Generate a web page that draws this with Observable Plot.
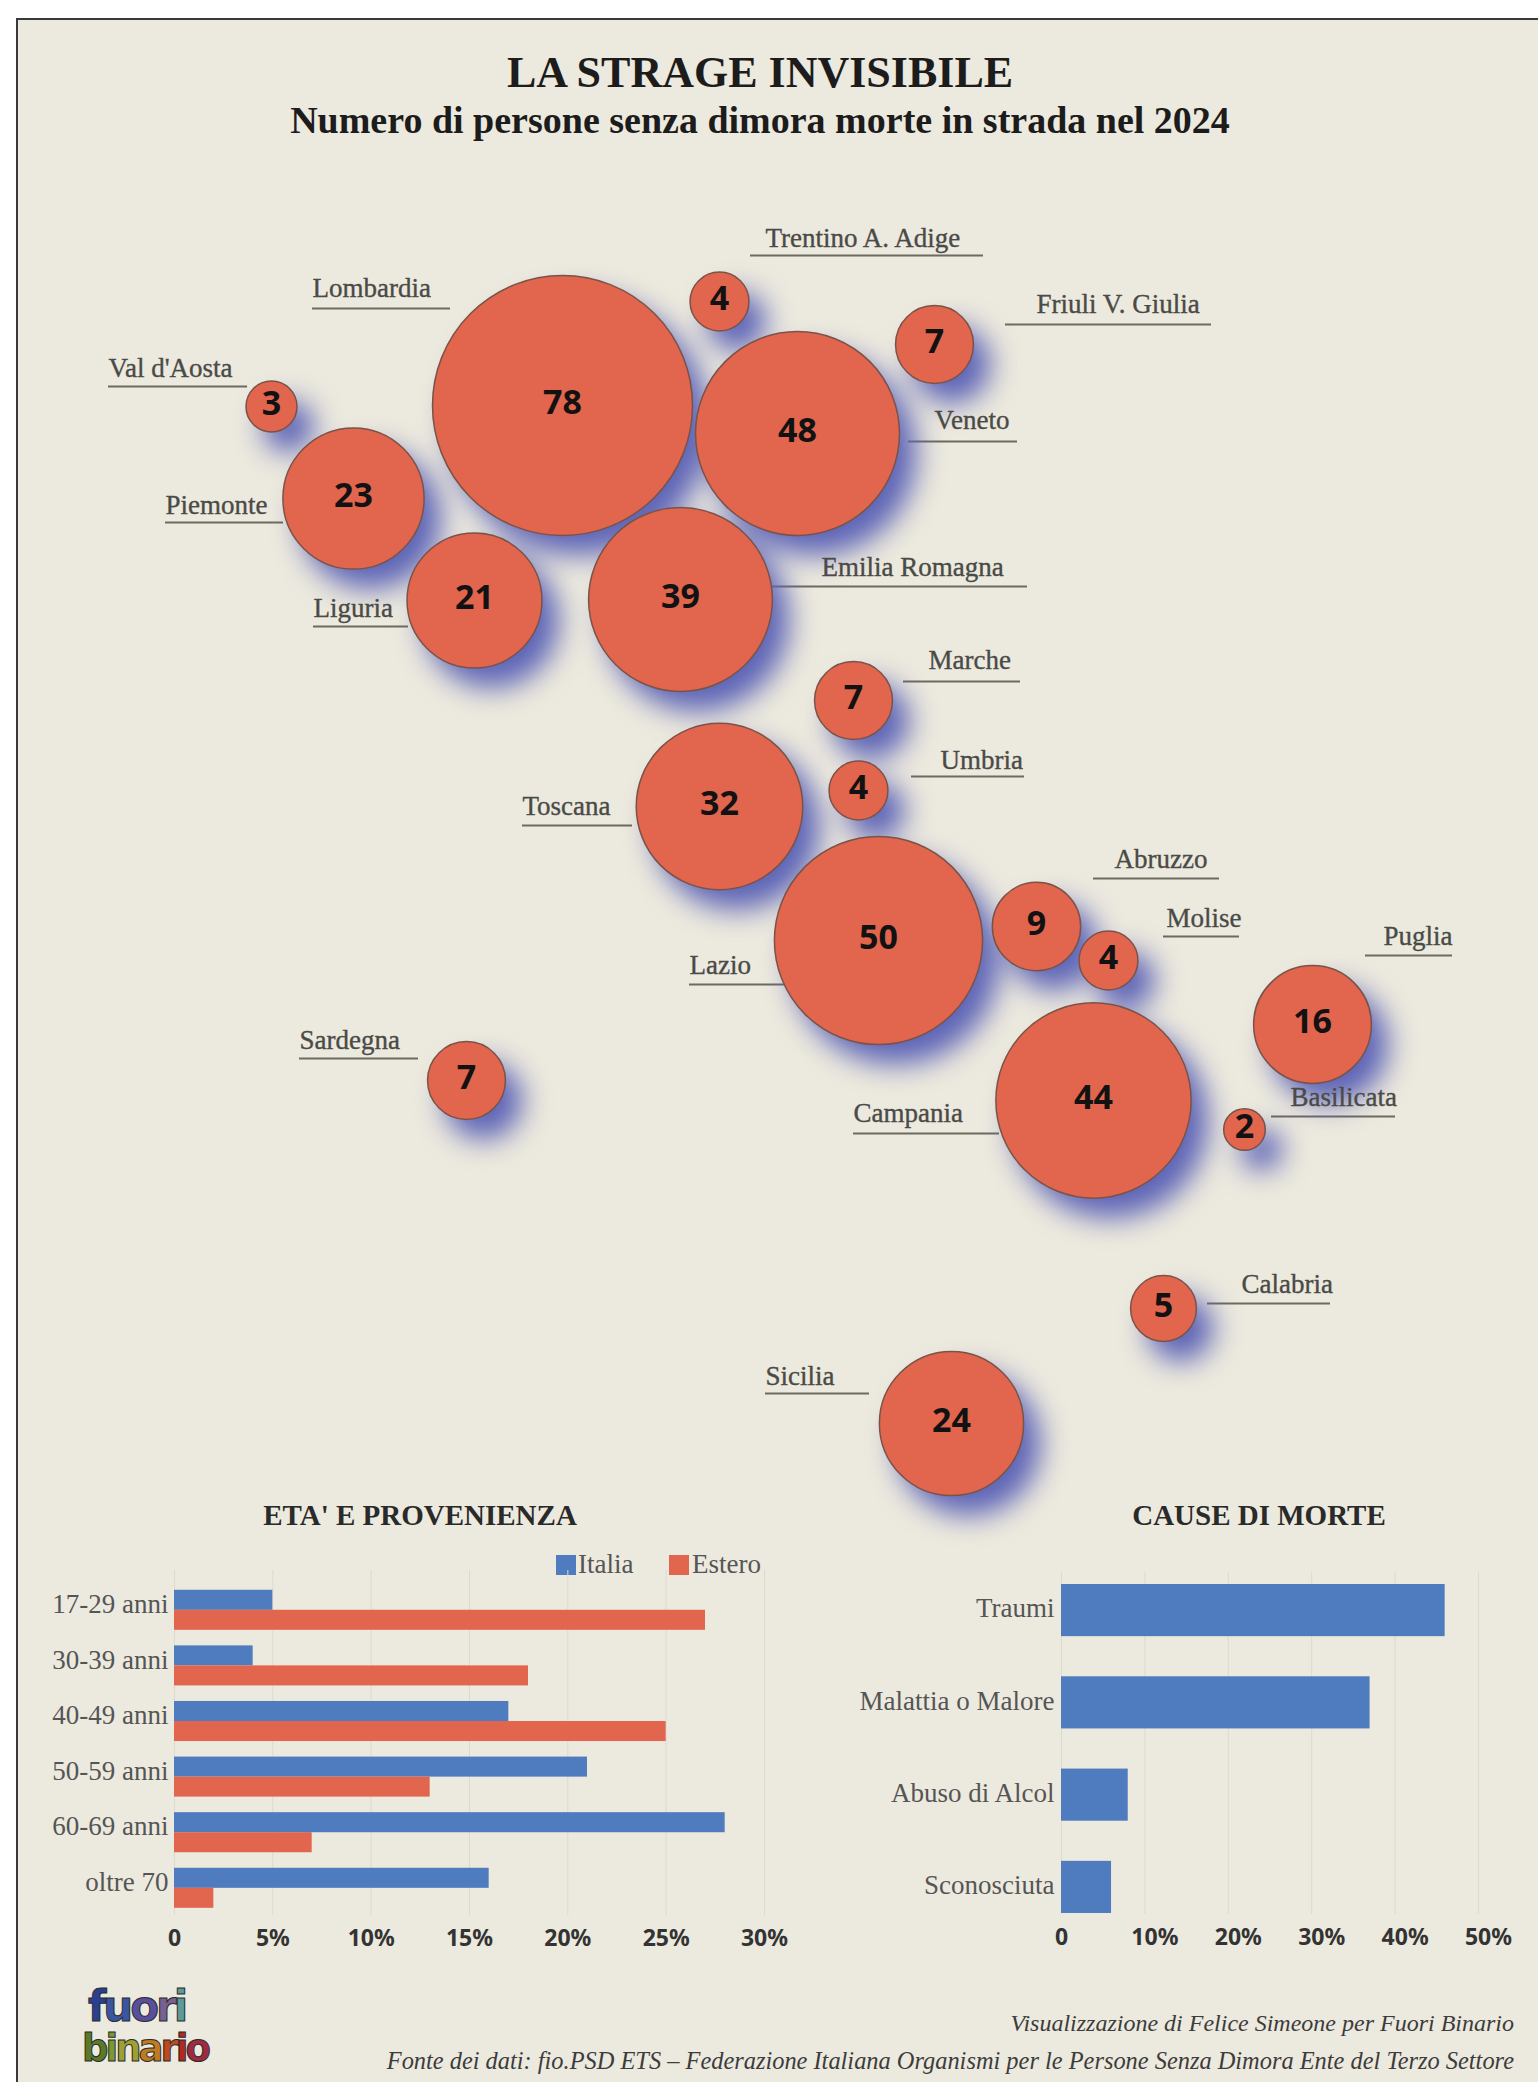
<!DOCTYPE html>
<html lang="it">
<head>
<meta charset="utf-8">
<script src="https://cdn.jsdelivr.net/npm/d3@7"></script>
<script src="https://cdn.jsdelivr.net/npm/@observablehq/plot@0.6"></script>
<style>
  html, body { margin: 0; padding: 0; background: #fff; }
  #page { position: relative; width: 1538px; height: 2082px; overflow: hidden; background: #fff; }
  #sheet { position: absolute; left: 16px; top: 18px; right: -4px; bottom: -4px; background: #ece9de; border: 2px solid #3a3a3a; }
  .abs { position: absolute; }
  .abs svg, #page svg { overflow: visible; }
  .serif { font-family: "Liberation Serif", serif; white-space: nowrap; }
  .center { transform: translateX(-50%); text-align: center; }
  #title { left: 760px; top: 47px; font-size: 44px; font-weight: 700; color: #1c1c1c; }
  #subtitle { left: 760px; top: 98px; font-size: 38px; font-weight: 700; color: #1c1c1c; }
  .panel-title { top: 1499px; font-size: 29px; font-weight: 700; color: #2a2a2a; }
  .legend-swatch { width: 20px; height: 20px; top: 1555px; }
  .legend-text { top: 1549px; font-size: 27px; color: #555; }
  .credit { right: 24px; font-style: italic; color: #3c3c3c; }
  #logo { left: 82px; top: 1984px; width: 130px; height: 96px; font-family: "DejaVu Sans", sans-serif; font-weight: 700; line-height: 1; }
  #logo div { position: absolute; white-space: nowrap; -webkit-text-stroke: 1px #2b2b2b; }
</style>
</head>
<body>
<div id="page">
  <div id="sheet"></div>
  <div id="bubbles" class="abs" style="left:0;top:0"></div>
  <div id="title" class="abs serif center">LA STRAGE INVISIBILE</div>
  <div id="subtitle" class="abs serif center">Numero di persone senza dimora morte in strada nel 2024</div>

  <div class="abs serif center panel-title" style="left:420px">ETA' E PROVENIENZA</div>
  <div class="abs serif center panel-title" style="left:1259px">CAUSE DI MORTE</div>

  <div class="abs legend-swatch" style="left:556px;background:#4f7bbf"></div>
  <div class="abs serif legend-text" style="left:578px">Italia</div>
  <div class="abs legend-swatch" style="left:669px;background:#e2654d"></div>
  <div class="abs serif legend-text" style="left:692px">Estero</div>

  <div id="ages" class="abs" style="left:0;top:1500px"></div>
  <div id="causes" class="abs" style="left:800px;top:1500px"></div>

  <div id="logo" class="abs">
    <div style="left:6px;top:2px;font-size:42px;letter-spacing:-3px"><span style="color:#2a3f8f">f</span><span style="color:#3a56a0">u</span><span style="color:#5a4f9c">o</span><span style="color:#7a5f90">r</span><span style="color:#5f9a9a">i</span></div>
    <div style="left:0;top:46px;font-size:37px;letter-spacing:-3px"><span style="color:#5a7a2a">b</span><span style="color:#7a9a30">i</span><span style="color:#a0a030">n</span><span style="color:#c07a20">a</span><span style="color:#c04a20">r</span><span style="color:#b02a20">i</span><span style="color:#a02a40">o</span></div>
  </div>

  <div class="abs serif credit" style="top:2010px;font-size:24px">Visualizzazione di Felice Simeone per Fuori Binario</div>
  <div class="abs serif credit" style="top:2047px;font-size:24.4px">Fonte dei dati: fio.PSD ETS – Federazione Italiana Organismi per le Persone Senza Dimora Ente del Terzo Settore</div>
</div>

<script>
// Deaths by region, with each region's place on the schematic map
const regions = ["Val d'Aosta", "Lombardia", "Trentino A. Adige", "Friuli V. Giulia", "Veneto", "Piemonte", "Liguria", "Emilia Romagna", "Marche", "Umbria", "Toscana", "Lazio", "Abruzzo", "Molise", "Puglia", "Campania", "Basilicata", "Sardegna", "Calabria", "Sicilia"];
const deaths = [3, 78, 4, 7, 48, 23, 21, 39, 7, 4, 32, 50, 9, 4, 16, 44, 2, 7, 5, 24];
const mapX = [271, 562, 719, 934, 797, 353, 474, 680, 853, 858, 719, 878, 1036, 1108, 1312, 1093, 1244, 466, 1163, 951];
const mapY = [406, 405, 301, 344, 433, 498, 600, 599, 700, 790, 806, 940, 926, 960, 1024, 1100, 1129, 1080, 1308, 1423];

// Region captions and the rule under each one
const captionX = [108, 312, 765, 1036, 934, 165, 313, 821, 928, 940, 522, 689, 1114, 1166, 1383, 853, 1290, 299, 1241, 765];
const captionY = [368, 288, 238, 304, 420, 505, 608, 567, 660, 760, 806, 965, 859, 918, 936, 1113, 1097, 1040, 1284, 1376];
const ruleStart = [108, 312, 750, 1005, 908, 165, 313, 770, 903, 911, 522, 689, 1093, 1163, 1365, 853, 1271, 299, 1207, 765];
const ruleEnd = [247, 450, 983, 1211, 1017, 283, 408, 1027, 1020, 1024, 632, 786, 1219, 1239, 1452, 999, 1395, 418, 1330, 869];
const ruleY = [386, 308, 255, 324, 441, 522, 626, 586, 681, 776, 825, 984, 878, 936, 955, 1133, 1116, 1058, 1303, 1393];

// Age and origin, percent of cases
const ageGroups = ["17-29 anni", "30-39 anni", "40-49 anni", "50-59 anni", "60-69 anni", "oltre 70"];
const italia = [5, 4, 17, 21, 28, 16];
const estero = [27, 18, 25, 13, 7, 2];
const ageTicks = [0, 5, 10, 15, 20, 25, 30];

// Causes of death, percent of cases
const causes = ["Traumi", "Malattia o Malore", "Abuso di Alcol", "Sconosciuta"];
const causeShares = [46, 37, 8, 6];
const causeTicks = [10, 20, 30, 40, 50];

const serif = "Liberation Serif";
const sans = "Noto Sans";
const blue = "#4f7bbf", red = "#e2654d", gridColor = "#dcd9cd";
const percent = (d) => (d === 0 ? "0" : `${d}%`);

const places = regions.map((name, i) => ({
  name, value: deaths[i], x: mapX[i], y: mapY[i],
  cx: captionX[i], cy: captionY[i], r1: ruleStart[i], r2: ruleEnd[i], ry: ruleY[i]
}));

document.getElementById("bubbles").append(Plot.plot({
  width: 1538, height: 1540, margin: 0,
  style: { background: "transparent" },
  x: { domain: [0, 1538], range: [0, 1538], axis: null },
  y: { domain: [0, 1540], range: [0, 1540], axis: null },
  r: { type: "sqrt", domain: [0, 78], range: [0, 130] },
  marks: [
    Plot.ruleY(places, { y: "ry", x1: "r1", x2: "r2", stroke: "#6d6a60", strokeWidth: 2 }),
    Plot.dot(places, { x: "x", y: "y", r: "value", fill: "#5d64b6", dx: 17, dy: 20, imageFilter: "blur(14px)" }),
    Plot.dot(places, { x: "x", y: "y", r: "value", fill: "#e2654d", stroke: "#7a5348", strokeWidth: 1.5 }),
    Plot.text(places, { x: "cx", y: "cy", text: "name", textAnchor: "start", fontFamily: serif, fontSize: 27, fill: "#4a4a46", stroke: "#4a4a46", strokeWidth: 0.35 }),
    Plot.text(places, { x: "x", y: "y", dy: -2, text: "value", fontFamily: sans, fontWeight: 700, fontSize: 34, fill: "#121212" })
  ]
}));

const ageRows = ageGroups.map((age, i) => ({ age, italia: italia[i], estero: estero[i] }));
document.getElementById("ages").append(Plot.plot({
  width: 800, height: 470,
  marginLeft: 174, marginRight: 36, marginTop: 70, marginBottom: 55,
  style: { background: "transparent" },
  x: { domain: [0, 30], axis: null },
  y: { domain: ageGroups, range: [82, 415.6], paddingInner: 0.28, paddingOuter: 0.14, round: false, axis: null },
  marks: [
    Plot.gridX(ageTicks, { stroke: gridColor, strokeOpacity: 1 }),
    Plot.barX(ageRows, { x: "italia", y: "age", fill: blue, insetBottom: 20 }),
    Plot.barX(ageRows, { x: "estero", y: "age", fill: red, insetTop: 20 }),
    Plot.axisY({ domain: ageGroups, anchor: "left", tickSize: 0, tickPadding: 6, dy: -6, label: null, fontFamily: serif, fontSize: 27, color: "#555" }),
    Plot.axisX(ageTicks, { anchor: "bottom", tickSize: 0, tickPadding: 14, label: null, tickFormat: percent, fontFamily: sans, fontWeight: 700, fontSize: 23, color: "#333" })
  ]
}));

const causeRows = causes.map((cause, i) => ({ cause, share: causeShares[i] }));
document.getElementById("causes").append(Plot.plot({
  width: 738, height: 470,
  marginLeft: 261, marginRight: 60, marginTop: 72, marginBottom: 56,
  style: { background: "transparent" },
  x: { domain: [0, 50], axis: null },
  y: { domain: causes, range: [64, 433], paddingInner: 0.435, paddingOuter: 0.217, round: false, axis: null },
  marks: [
    Plot.gridX([0, ...causeTicks], { stroke: gridColor, strokeOpacity: 1 }),
    Plot.barX(causeRows, { x: "share", y: "cause", fill: blue }),
    Plot.axisY({ domain: causes, anchor: "left", tickSize: 0, tickPadding: 7, dy: -2, label: null, fontFamily: serif, fontSize: 27, color: "#555" }),
    Plot.axisX([0], { anchor: "bottom", tickSize: 0, tickPadding: 14, label: null, tickFormat: percent, fontFamily: sans, fontWeight: 700, fontSize: 23, color: "#333" }),
    Plot.axisX(causeTicks, { anchor: "bottom", tickSize: 0, tickPadding: 14, dx: 10, label: null, tickFormat: percent, fontFamily: sans, fontWeight: 700, fontSize: 23, color: "#333" })
  ]
}));
</script>
</body>
</html>
